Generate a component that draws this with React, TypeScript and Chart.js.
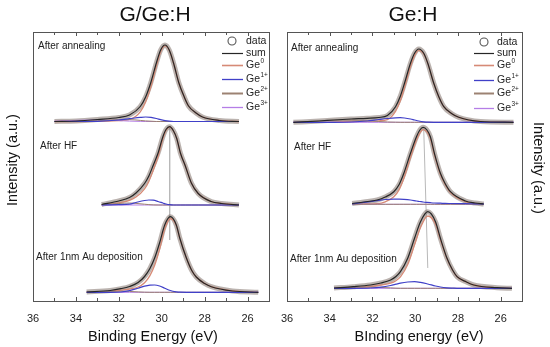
import React, { useEffect, useRef } from "react";
import { Chart, registerables } from "chart.js";
Chart.register(...registerables);

const FONT = "'Liberation Sans', Arial, Helvetica, sans-serif";

// ---------------- Left panel: G/Ge:H ----------------
// After annealing
const laE = [35.0, 34.0, 33.0, 32.0, 31.5, 31.0, 30.75, 30.5, 30.25, 30.05, 29.85, 29.65, 29.45, 29.2, 28.95, 28.75, 28.4, 28.1, 27.3, 26.4];
const laSum = [179.5, 180, 181.5, 183.5, 186, 194.5, 204, 219, 238, 251, 256, 251, 238, 218, 204, 195, 188, 184, 180.5, 179.5];
const laGe0 = [179.5, 179.5, 179.6, 180.3, 181.5, 189.2, 199, 214.6, 235, 249.2, 255.1, 250.7, 238, 218, 204, 195, 188, 184, 180.5, 179.5];
const laGe1 = [179.5, 179.5, 179.7, 181, 182.3, 183.6, 184, 183.6, 182.5, 181.3, 180.4, 179.8, 179.5, 179.5, 179.5, 179.5, 179.5, 179.5, 179.5, 179.5];
const laGe2 = [179.5, 179.6, 180.3, 181.3, 181.4, 180.6, 180.1, 179.8, 179.5, 179.5, 179.5, 179.5, 179.5, 179.5, 179.5, 179.5, 179.5, 179.5, 179.5, 179.5];
const laGe3 = [179.8, 180.6, 181, 180.4, 179.9, 179.6, 179.5, 179.5, 179.5, 179.5, 179.5, 179.5, 179.5, 179.5, 179.5, 179.5, 179.5, 179.5, 179.5, 179.5];
// After HF
const lhE = [32.8, 32.0, 31.5, 31.2, 30.8, 30.6, 30.4, 30.17, 29.95, 29.8, 29.63, 29.45, 29.3, 29.13, 28.9, 28.62, 28.3, 27.7, 27.2, 26.4];
const lhSum = [96.5, 100, 103.5, 108, 117.5, 125, 135.5, 148, 164, 171.5, 174.3, 170, 162.5, 148, 135, 118, 107.5, 99.5, 97.5, 96];
const lhGe0 = [96.2, 98.2, 100.7, 103.9, 112.2, 119.6, 130.6, 144.5, 162, 170.5, 174, 170, 162.5, 148, 135, 118, 107.5, 99.5, 97.5, 96];
const lhGe1 = [96, 96.3, 96.8, 98.5, 100.5, 101, 100.8, 99.5, 98, 97, 96.3, 96, 96, 96, 96, 96, 96, 96, 96, 96];
const lhGe2 = [96.3, 97.5, 98, 97.6, 96.8, 96.4, 96.1, 96, 96, 96, 96, 96, 96, 96, 96, 96, 96, 96, 96, 96];
const lhGe3 = [96, 96, 96, 96, 96, 96, 96, 96, 96, 96, 96, 96, 96, 96, 96, 96, 96, 96, 96, 96];
// After 1nm Au deposition
const luE = [33.5, 32.4, 31.9, 31.5, 31.1, 30.8, 30.55, 30.33, 30.1, 29.86, 29.6, 29.32, 29.16, 28.85, 28.6, 28.39, 28.0, 27.69, 26.7, 25.5];
const luSum = [9, 10.5, 12.3, 14.5, 18.5, 24.5, 32.5, 43, 58, 76, 84.3, 76, 63, 43, 30.5, 24, 17.5, 14.3, 10, 8.7];
const luGe0 = [8.8, 9.7, 10.9, 12, 14, 18.3, 25.4, 35.7, 51.7, 71.9, 82.5, 75.5, 62.9, 43, 30.5, 24, 17.5, 14.3, 10, 8.7];
const luGe1 = [8.7, 8.7, 9, 10.3, 12.8, 14.8, 15.8, 16, 15, 12.8, 10.5, 9.2, 8.8, 8.7, 8.7, 8.7, 8.7, 8.7, 8.7, 8.7];
const luGe2 = [8.9, 9.5, 9.8, 9.6, 9.1, 8.8, 8.7, 8.7, 8.7, 8.7, 8.7, 8.7, 8.7, 8.7, 8.7, 8.7, 8.7, 8.7, 8.7, 8.7];
const luGe3 = [8.7, 8.7, 8.7, 8.7, 8.7, 8.7, 8.7, 8.7, 8.7, 8.7, 8.7, 8.7, 8.7, 8.7, 8.7, 8.7, 8.7, 8.7, 8.7, 8.7];
// reference line
const lvE = [29.63, 29.63];
const lvI = [174, 61];

// ---------------- Right panel: Ge:H ----------------
const raE = [35.7, 34.5, 33.8, 33.0, 32.25, 31.7, 31.3, 30.92, 30.7, 30.5, 30.22, 30.03, 29.83, 29.6, 29.41, 29.13, 28.9, 28.66, 28.3, 27.96, 26.95, 25.4];
const raSum = [178.7, 180, 181, 182, 182.7, 183.5, 185.5, 194.3, 204.5, 217.7, 237.7, 247.7, 252, 247.7, 237.7, 217.7, 204.5, 194.3, 187.5, 183.7, 179.5, 178.7];
const raGe0 = [178.7, 178.7, 178.9, 179.5, 179.9, 180.2, 181.4, 189.7, 199.9, 213.4, 234.4, 245.4, 250.7, 247.2, 237.6, 217.7, 204.5, 194.3, 187.5, 183.7, 179.5, 178.7];
const raGe1 = [178.7, 178.7, 178.7, 179, 180, 181.5, 182.5, 183.2, 183.3, 183, 182, 181, 180, 179.2, 178.8, 178.7, 178.7, 178.7, 178.7, 178.7, 178.7, 178.7];
const raGe2 = [178.9, 180, 180.8, 180.9, 180.2, 179.5, 179, 178.8, 178.7, 178.7, 178.7, 178.7, 178.7, 178.7, 178.7, 178.7, 178.7, 178.7, 178.7, 178.7, 178.7, 178.7];
const raGe3 = [178.7, 178.7, 178.7, 178.7, 178.7, 178.7, 178.7, 178.7, 178.7, 178.7, 178.7, 178.7, 178.7, 178.7, 178.7, 178.7, 178.7, 178.7, 178.7, 178.7, 178.7, 178.7];
const rhE = [32.95, 32.4, 31.78, 31.4, 31.0, 30.75, 30.53, 30.22, 29.94, 29.78, 29.63, 29.45, 29.29, 29.1, 28.82, 28.6, 28.35, 27.65, 27.2, 26.79];
const rhSum = [97.5, 99, 101, 104, 109.3, 116.5, 127.7, 147.7, 164.3, 171, 173.7, 171, 164.3, 147.7, 127.7, 117.5, 109.3, 100, 98, 97];
const rhGe0 = [97, 97.1, 97.4, 99.2, 104.2, 111.4, 122.8, 143.4, 161, 168.2, 171.4, 169.1, 162.7, 146.4, 126.6, 116.6, 108.5, 99.4, 97.5, 96.7];
const rhGe1 = [97.2, 98.6, 100.3, 101.5, 101.8, 101.8, 101.6, 101, 100, 99.5, 99, 98.6, 98.3, 98, 97.8, 97.6, 97.5, 97.3, 97.2, 97.1];
const rhGe2 = [96.7, 96.7, 96.7, 96.7, 96.7, 96.7, 96.7, 96.7, 96.7, 96.7, 96.7, 96.7, 96.7, 96.7, 96.7, 96.7, 96.7, 96.7, 96.7, 96.7];
const rhGe3 = [96.7, 96.7, 96.7, 96.7, 96.7, 96.7, 96.7, 96.7, 96.7, 96.7, 96.7, 96.7, 96.7, 96.7, 96.7, 96.7, 96.7, 96.7, 96.7, 96.7];
const ruE = [33.8, 32.9, 32.09, 31.6, 31.15, 30.9, 30.69, 30.35, 30.03, 29.75, 29.41, 29.05, 28.82, 28.51, 28.25, 28.04, 27.6, 27.26, 26.17, 25.47];
const ruSum = [13, 14.3, 16, 18, 21, 24.5, 29.3, 42.7, 62.7, 79.3, 89.3, 79.3, 62.7, 42.7, 31, 24.3, 19, 16, 13.3, 12.7];
const ruGe0 = [12.8, 13.5, 14.5, 16, 17.8, 20.3, 24.1, 36.4, 56.1, 73.4, 85, 77, 61.4, 42.2, 30.8, 24.3, 19, 16, 13.3, 12.7];
const ruGe1 = [12.7, 12.7, 13, 13.8, 15.5, 16.8, 17.9, 19, 19.3, 18.6, 17, 15, 14, 13.2, 12.9, 12.7, 12.7, 12.7, 12.7, 12.7];
const ruGe2 = [12.9, 13.5, 13.9, 13.6, 13.1, 12.8, 12.7, 12.7, 12.7, 12.7, 12.7, 12.7, 12.7, 12.7, 12.7, 12.7, 12.7, 12.7, 12.7, 12.7];
const ruGe3 = [12.7, 12.7, 12.7, 12.7, 12.7, 12.7, 12.7, 12.7, 12.7, 12.7, 12.7, 12.7, 12.7, 12.7, 12.7, 12.7, 12.7, 12.7, 12.7, 12.7];
const rvE = [29.6, 29.41];
const rvI = [172, 33];

const xMin = 25;
const xMax = 36;
const yMin = 0;
const yMax = 269;

const legendLabels = ["data", "sum", "Ge", "Ge", "Ge", "Ge"];
const legendSups = ["", "", "0", "1+", "2+", "3+"];

const COLORS = {
  data: "rgba(120,104,96,0.5)",
  sum: "#262626",
  ge0: "#d68a76",
  ge1: "#4040c8",
  ge2: "#9c8272",
  ge3: "#b57ee6",
  vline: "#b8b8b8",
};

type Spec = { e: number[]; sum: number[]; ge0: number[]; ge1: number[]; ge2: number[]; ge3: number[] };

const pts = (e: number[], v: number[]) => e.map((x, i) => ({ x, y: v[i] }));

function specDatasets(s: Spec) {
  const base = { pointRadius: 0, cubicInterpolationMode: "monotone" as const, fill: false };
  return [
    { ...base, label: "data", data: pts(s.e, s.sum), borderColor: COLORS.data, borderWidth: 5, order: 6 },
    { ...base, label: "Ge0", data: pts(s.e, s.ge0), borderColor: COLORS.ge0, borderWidth: 1.3, order: 4 },
    { ...base, label: "Ge2+", data: pts(s.e, s.ge2), borderColor: COLORS.ge2, borderWidth: 1, order: 3 },
    { ...base, label: "Ge3+", data: pts(s.e, s.ge3), borderColor: COLORS.ge3, borderWidth: 1, order: 3 },
    { ...base, label: "Ge1+", data: pts(s.e, s.ge1), borderColor: COLORS.ge1, borderWidth: 1.2, order: 2 },
    { ...base, label: "sum", data: pts(s.e, s.sum), borderColor: COLORS.sum, borderWidth: 1.2, order: 1 },
  ];
}

type Decor = {
  offsetX: number;
  title: [string, number, number];
  yTitle: [string, number, number, number];
  xTitle: [string, number, number];
  labels: [string, number, number][];
  legend: { cx: number; lx0: number; lx1: number; tx: number; rows: number[] };
};

function decorPlugin(d: Decor) {
  return {
    id: "decor",
    afterDraw(chart: any) {
      const ctx: CanvasRenderingContext2D = chart.ctx;
      const a = chart.chartArea;
      const xs = chart.scales.x;
      const ox = d.offsetX;
      ctx.save();
      // frame
      ctx.strokeStyle = "#555";
      ctx.lineWidth = 1;
      ctx.strokeRect(Math.round(a.left) + 0.5, Math.round(a.top) + 0.5, Math.round(a.right - a.left), Math.round(a.bottom - a.top));
      // inward ticks
      xs.ticks.forEach((t: any) => {
        const px = Math.round(xs.getPixelForValue(t.value)) + 0.5;
        const len = t.value % 2 === 0 ? 4 : 3;
        ctx.beginPath();
        ctx.moveTo(px, a.bottom);
        ctx.lineTo(px, a.bottom - len);
        ctx.moveTo(px, a.top);
        ctx.lineTo(px, a.top + len);
        ctx.stroke();
      });
      ctx.fillStyle = "#111";
      ctx.textBaseline = "middle";
      // title
      ctx.textAlign = "center";
      ctx.font = `21px ${FONT}`;
      ctx.fillText(d.title[0], d.title[1] - ox, d.title[2]);
      // x title
      ctx.font = `14.5px ${FONT}`;
      ctx.fillText(d.xTitle[0], d.xTitle[1] - ox, d.xTitle[2]);
      // y title
      ctx.save();
      ctx.translate(d.yTitle[1] - ox, d.yTitle[2]);
      ctx.rotate(d.yTitle[3]);
      ctx.fillText(d.yTitle[0], 0, 0);
      ctx.restore();
      // stage labels
      ctx.textAlign = "left";
      ctx.fillStyle = "#222";
      ctx.font = `10px ${FONT}`;
      d.labels.forEach(([txt, x, y]) => ctx.fillText(txt, x - ox, y));
      // legend
      const L = d.legend;
      const lineColors = ["", COLORS.sum, COLORS.ge0, COLORS.ge1, COLORS.ge2, COLORS.ge3];
      const lineWidths = [0, 1.2, 1.6, 1.3, 2, 1.3];
      legendLabels.forEach((lab, i) => {
        const y = L.rows[i];
        if (i === 0) {
          ctx.beginPath();
          ctx.strokeStyle = "#555";
          ctx.lineWidth = 1.1;
          ctx.arc(L.cx - ox, y, 4, 0, Math.PI * 2);
          ctx.stroke();
        } else {
          ctx.beginPath();
          ctx.strokeStyle = lineColors[i];
          ctx.lineWidth = lineWidths[i];
          ctx.moveTo(L.lx0 - ox, y + 0.5);
          ctx.lineTo(L.lx1 - ox, y + 0.5);
          ctx.stroke();
        }
        ctx.fillStyle = "#222";
        ctx.font = `10.5px ${FONT}`;
        ctx.fillText(lab, L.tx - ox, y);
        if (legendSups[i]) {
          const w = ctx.measureText(lab).width;
          ctx.font = `6.5px ${FONT}`;
          ctx.fillText(legendSups[i], L.tx - ox + w + 0.5, y - 4);
        }
      });
      ctx.restore();
    },
  };
}

function makeConfig(specs: Spec[], vE: number[], vI: number[], padL: number, padR: number, d: Decor): any {
  const datasets: any[] = [];
  specs.forEach((s) => datasets.push(...specDatasets(s)));
  datasets.push({
    label: "ref",
    data: pts(vE, vI),
    borderColor: COLORS.vline,
    borderWidth: 1,
    pointRadius: 0,
    order: 7,
  });
  return {
    type: "line",
    data: { datasets },
    plugins: [decorPlugin(d)],
    options: {
      responsive: false,
      maintainAspectRatio: false,
      animation: false,
      devicePixelRatio: 1,
      layout: { padding: { top: 32, left: padL, right: padR, bottom: 0 } },
      plugins: { legend: { display: false }, tooltip: { enabled: false }, title: { display: false } },
      scales: {
        x: {
          type: "linear",
          min: xMin,
          max: xMax,
          reverse: true,
          grid: { display: false },
          border: { display: false },
          ticks: {
            stepSize: 1,
            autoSkip: false,
            maxRotation: 0,
            padding: 3,
            color: "#222",
            font: { size: 11, family: FONT },
            callback: (v: number) => (v % 2 === 0 ? String(v) : ""),
          },
          afterFit: (s: any) => {
            s.height = 46;
          },
        },
        y: { display: false, min: yMin, max: yMax },
      },
    },
  };
}

const leftSpecs: Spec[] = [
  { e: laE, sum: laSum, ge0: laGe0, ge1: laGe1, ge2: laGe2, ge3: laGe3 },
  { e: lhE, sum: lhSum, ge0: lhGe0, ge1: lhGe1, ge2: lhGe2, ge3: lhGe3 },
  { e: luE, sum: luSum, ge0: luGe0, ge1: luGe1, ge2: luGe2, ge3: luGe3 },
];
const rightSpecs: Spec[] = [
  { e: raE, sum: raSum, ge0: raGe0, ge1: raGe1, ge2: raGe2, ge3: raGe3 },
  { e: rhE, sum: rhSum, ge0: rhGe0, ge1: rhGe1, ge2: rhGe2, ge3: rhGe3 },
  { e: ruE, sum: ruSum, ge0: ruGe0, ge1: ruGe1, ge2: ruGe2, ge3: ruGe3 },
];

const leftDecor: Decor = {
  offsetX: 0,
  title: ["G/Ge:H", 155, 15],
  yTitle: ["Intensity (a.u.)", 13, 160, -Math.PI / 2],
  xTitle: ["Binding Energy (eV)", 153, 337],
  labels: [
    ["After annealing", 38, 46],
    ["After HF", 40, 146],
    ["After 1nm Au deposition", 36, 257],
  ],
  legend: { cx: 232, lx0: 222, lx1: 243, tx: 246, rows: [41, 53, 65, 79, 93, 107] },
};
const rightDecor: Decor = {
  offsetX: 275,
  title: ["Ge:H", 413, 15],
  yTitle: ["Intensity (a.u.)", 537.5, 168, Math.PI / 2],
  xTitle: ["BInding energy (eV)", 419, 337],
  labels: [
    ["After annealing", 291, 48],
    ["After HF", 294, 147],
    ["After 1nm Au deposition", 290, 259],
  ],
  legend: { cx: 484, lx0: 474, lx1: 494, tx: 497, rows: [42, 53, 65, 80, 93, 108] },
};

export default function App() {
  const leftRef = useRef<HTMLCanvasElement>(null);
  const rightRef = useRef<HTMLCanvasElement>(null);
  useEffect(() => {
    const c1 = new Chart(leftRef.current as HTMLCanvasElement, makeConfig(leftSpecs, lvE, lvI, 33, 6, leftDecor));
    const c2 = new Chart(rightRef.current as HTMLCanvasElement, makeConfig(rightSpecs, rvE, rvI, 12, 28, rightDecor));
    return () => {
      c1.destroy();
      c2.destroy();
    };
  }, []);
  return (
    <div style={{ position: "fixed", left: 0, top: 0, width: 550, height: 347, background: "#fff" }}>
      <canvas ref={leftRef} width={275} height={347} style={{ position: "absolute", left: 0, top: 0, width: 275, height: 347 }} />
      <canvas ref={rightRef} width={275} height={347} style={{ position: "absolute", left: 275, top: 0, width: 275, height: 347 }} />
    </div>
  );
}
